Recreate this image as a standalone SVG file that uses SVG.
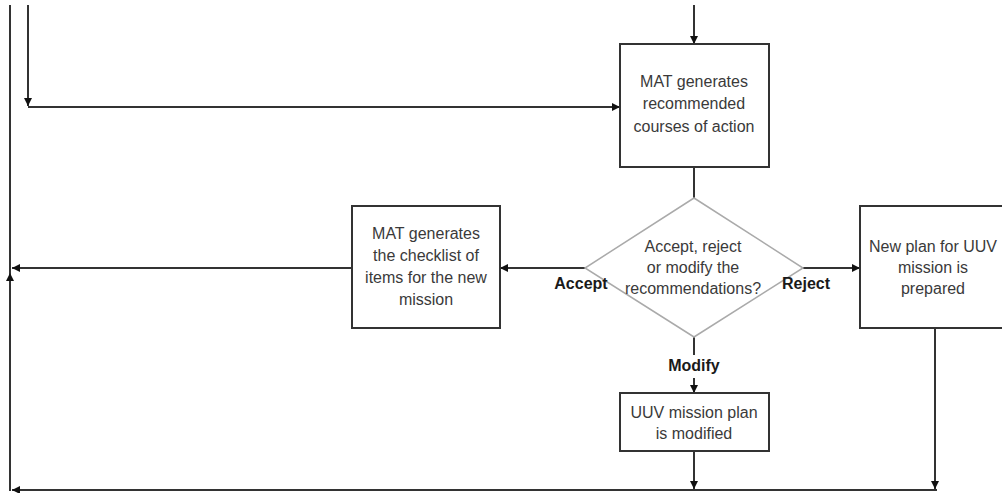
<svg xmlns="http://www.w3.org/2000/svg" width="1002" height="493" viewBox="0 0 1002 493">
  <defs>
    <marker id="arrow" viewBox="0 0 10 10" refX="10" refY="5" markerWidth="8" markerHeight="8" markerUnits="userSpaceOnUse" orient="auto">
      <path d="M0,0 L10,5 L0,10 Z" fill="#111"/>
    </marker>
  </defs>
  <style>
    .box { fill: #fff; stroke: #333; stroke-width: 2; }
    .decision { fill: #fff; stroke: #aaa; stroke-width: 1.5; }
    .conn { fill: none; stroke: #333; stroke-width: 2; }
    .txt { font-family: "Liberation Sans", Arial, sans-serif; font-size: 16px; fill: #3a3a3a; text-anchor: middle; }
    .lbl { font-family: "Liberation Sans", Arial, sans-serif; font-size: 16px; font-weight: bold; fill: #1a1a1a; text-anchor: middle; }
  </style>
  <rect width="1002" height="493" fill="#fff"/>

  <g id="connectors">
    <!-- incoming from above into the recommendation step -->
    <line class="conn" x1="694" y1="5" x2="694" y2="44" marker-end="url(#arrow)"/>
    <!-- side feed into the recommendation step -->
    <line class="conn" x1="28" y1="5" x2="28" y2="106" marker-end="url(#arrow)"/>
    <line class="conn" x1="28" y1="107" x2="620" y2="107" marker-end="url(#arrow)"/>
    <!-- recommendation to decision -->
    <line class="conn" x1="694" y1="167" x2="694" y2="198"/>
    <!-- accept branch -->
    <line class="conn" x1="585" y1="268" x2="500" y2="268" marker-end="url(#arrow)"/>
    <line class="conn" x1="352" y1="268" x2="12" y2="268" marker-end="url(#arrow)"/>
    <!-- reject branch -->
    <line class="conn" x1="803" y1="268" x2="860" y2="268" marker-end="url(#arrow)"/>
    <line class="conn" x1="935" y1="328" x2="935" y2="489" marker-end="url(#arrow)"/>
    <!-- modify branch -->
    <line class="conn" x1="694" y1="337" x2="694" y2="355"/>
    <line class="conn" x1="694" y1="378" x2="694" y2="393" marker-end="url(#arrow)"/>
    <line class="conn" x1="694" y1="451" x2="694" y2="489" marker-end="url(#arrow)"/>
    <!-- return loop along the bottom and left edge -->
    <line class="conn" x1="937" y1="490" x2="12" y2="490" marker-end="url(#arrow)"/>
    <line class="conn" x1="10" y1="5" x2="10" y2="491"/>
    <line class="conn" x1="10" y1="490" x2="10" y2="273" marker-end="url(#arrow)"/>
  </g>

  <g id="node-recommend">
    <rect class="box" x="620" y="44" width="149" height="123"/>
    <text class="txt" x="694" y="87">MAT generates</text>
    <text class="txt" x="694" y="109">recommended</text>
    <text class="txt" x="694" y="132">courses of action</text>
  </g>

  <g id="node-decision">
    <polygon class="decision" points="694,198 803,268 694,337 585,268"/>
    <text class="txt" x="693" y="252">Accept, reject</text>
    <text class="txt" x="693" y="273">or modify the</text>
    <text class="txt" x="693" y="294">recommendations?</text>
  </g>

  <g id="node-checklist">
    <rect class="box" x="352" y="206" width="148" height="122"/>
    <text class="txt" x="426" y="239">MAT generates</text>
    <text class="txt" x="426" y="261">the checklist of</text>
    <text class="txt" x="426" y="283">items for the new</text>
    <text class="txt" x="426" y="305">mission</text>
  </g>

  <g id="node-newplan">
    <rect class="box" x="860" y="206" width="160" height="122"/>
    <text class="txt" x="933" y="252">New plan for UUV</text>
    <text class="txt" x="933" y="273">mission is</text>
    <text class="txt" x="933" y="294">prepared</text>
  </g>

  <g id="node-modified">
    <rect class="box" x="620" y="393" width="149" height="58"/>
    <text class="txt" x="694" y="418">UUV mission plan</text>
    <text class="txt" x="694" y="439">is modified</text>
  </g>

  <g id="branch-labels">
    <text class="lbl" x="581" y="289">Accept</text>
    <text class="lbl" x="806" y="289">Reject</text>
    <text class="lbl" x="694" y="371">Modify</text>
  </g>
</svg>
